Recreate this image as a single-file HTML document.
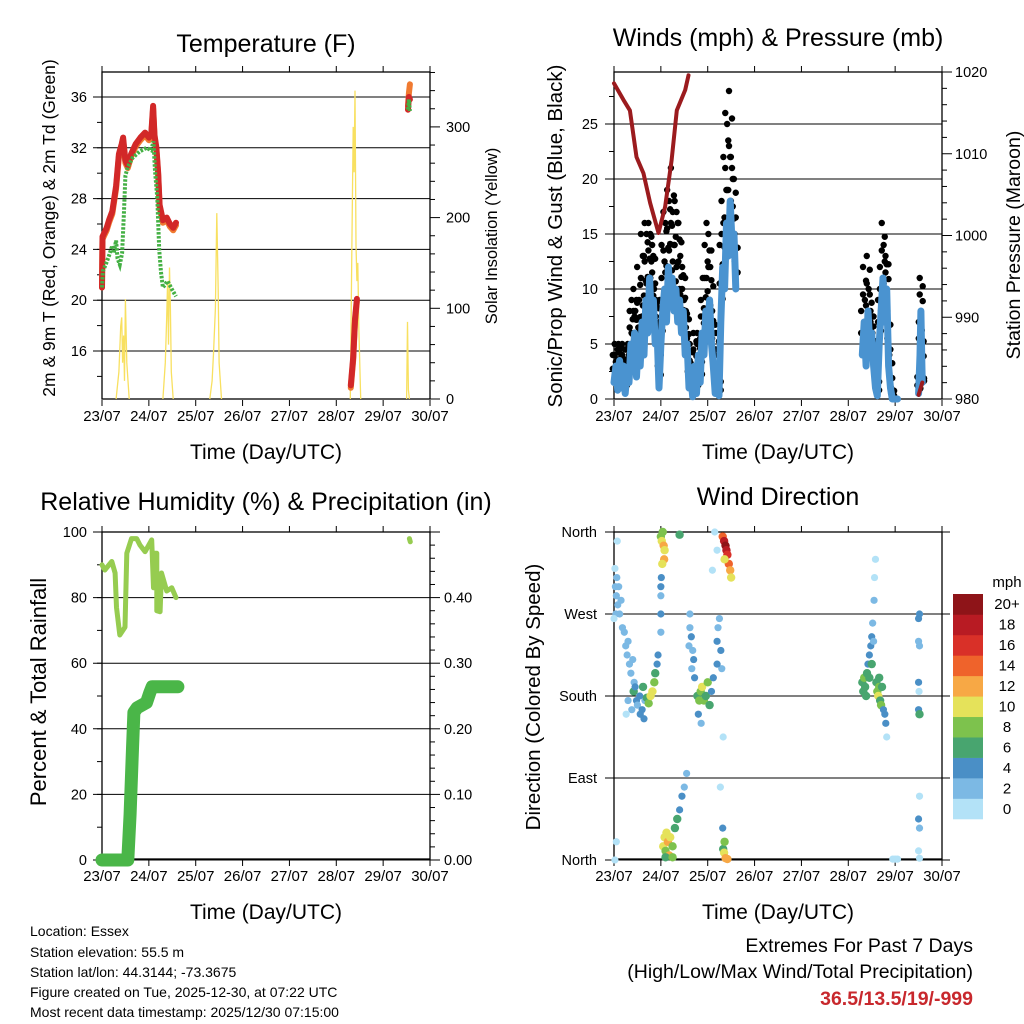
<!DOCTYPE html>
<html><head><meta charset="utf-8"><style>
html,body{margin:0;padding:0;background:#fff}
svg{display:block;font-family:"Liberation Sans",sans-serif}
</style></head><body>
<svg id="s" width="1024" height="1024" viewBox="0 0 1024 1024" xmlns="http://www.w3.org/2000/svg">
<g font-size="25" text-anchor="middle" fill="#000">
<text x="266" y="52">Temperature (F)</text>
<text x="778" y="46">Winds (mph) &amp; Pressure (mb)</text>
<text x="266" y="510">Relative Humidity (%) &amp; Precipitation (in)</text>
<text x="778" y="505">Wind Direction</text>
</g>
<g font-size="21" text-anchor="middle">
<text x="266" y="459">Time (Day/UTC)</text>
<text x="778" y="459">Time (Day/UTC)</text>
<text x="266" y="919">Time (Day/UTC)</text>
<text x="778" y="919">Time (Day/UTC)</text>
<text transform="translate(55,228) rotate(-90)" font-size="17.5">2m &amp; 9m T (Red, Orange) &amp; 2m Td (Green)</text>
<text transform="translate(497,236) rotate(-90)" font-size="16.5">Solar Insolation (Yellow)</text>
<text transform="translate(562,236) rotate(-90)" font-size="20.5">Sonic/Prop Wind &amp; Gust (Blue, Black)</text>
<text transform="translate(1020,245) rotate(-90)" font-size="19.5">Station Pressure (Maroon)</text>
<text transform="translate(46,692) rotate(-90)" font-size="22">Percent &amp; Total Rainfall</text>
<text transform="translate(540,697) rotate(-90)" font-size="20.5">Direction (Colored By Speed)</text>
</g>
<g font-size="14">
<text x="30" y="936">Location: Essex</text>
<text x="30" y="957">Station elevation: 55.5 m</text>
<text x="30" y="977">Station lat/lon: 44.3144; -73.3675</text>
<text x="30" y="997">Figure created on Tue, 2025-12-30, at 07:22 UTC</text>
<text x="30" y="1017">Most recent data timestamp: 2025/12/30 07:15:00</text>
</g>
<g font-size="19.5" text-anchor="end">
<text x="973" y="952">Extremes For Past 7 Days</text>
<text x="973" y="978">(High/Low/Max Wind/Total Precipitation)</text>
<text x="973" y="1005" font-weight="bold" fill="#c8282d">36.5/13.5/19/-999</text>
</g>
<g id="layer"></g>
</svg>
<script>
// ---- data ----
const dayLabels = ["23/07","24/07","25/07","26/07","27/07","28/07","29/07","30/07"];
const tempTicks = [16,20,24,28,32,36];
const solarTicks = [0,100,200,300];
const windTicks = [0,5,10,15,20,25];
const presTicks = [980,990,1000,1010,1020];
const rhTicks = [0,20,40,60,80,100];
const precipTicks = ["0.00","0.10","0.20","0.30","0.40"];
const dirLabels = ["North","East","South","West","North"];
const speedBins = ["0","2","4","6","8","10","12","14","16","18","20+"];
const binColors = ["#b3e2f7","#7cb9e4","#4a8fc6","#48a56f","#7dc24d","#e5e25a","#f7a845","#ef632b","#d93028","#b81b23","#8e1418"];

const tempT = [0,0.01,0.05,0.1,0.15,0.22,0.3,0.36,0.42,0.45,0.5,0.55,0.62,0.72,0.82,0.92,1.0,1.05,1.09,1.12,1.16,1.2,1.23,1.3,1.38,1.45,1.52,1.58,null,5.31,5.36,5.4,5.44,null,6.53,6.55,6.57];
const tempV = [21,25,25.3,25.7,26.3,27,29,31.5,32.3,32.8,31,30.6,31.5,32.3,32.8,33.2,32.8,33,35.3,33,32,30,27.5,26.3,26.5,26,25.7,26.1,null,13.3,15.5,18.5,20.1,null,35,36,35.8];
const tempOrangeV = [21,24.8,25.1,25.5,26.1,26.8,28.8,31.3,32.1,32.6,30.8,30.4,31.3,32.1,32.6,33,32.6,32.8,35.1,32.8,31.8,29.8,27.3,26.1,26.3,25.8,25.5,25.9,null,13.1,15.3,18.3,19.9,null,35.3,36.3,37];
const dewT = [0,0.02,0.08,0.15,0.22,0.25,0.3,0.33,0.38,0.43,0.47,0.5,0.55,0.65,0.8,0.95,1.05,1.1,1.13,1.18,1.22,1.26,1.3,1.4,1.5,1.58,null,6.53,6.55,6.57];
const dewV = [21,22.3,22.8,23.5,24.3,23.7,24.7,23.3,22.8,23.7,27,29.8,30.5,31.2,31.7,32,31.8,32.5,30.3,28,24,22.2,21,21.5,20.8,20.3,null,35,35.8,34.9];
const solarT = [0.3,0.36,0.4,0.42,0.44,0.46,0.48,0.5,0.53,0.58,null,1.3,1.35,1.38,1.4,1.42,1.44,1.46,1.48,1.52,null,2.3,2.35,2.38,2.42,2.45,2.48,2.5,2.55,null,5.3,5.33,5.36,5.38,5.4,5.42,5.44,5.46,5.48,5.52,null,6.5,6.52,6.54,6.56];
const solarV = [0,30,80,90,40,70,20,110,40,0,null,0,40,90,130,60,145,100,30,0,null,0,20,50,100,205,120,40,0,null,0,150,300,250,340,170,130,150,80,0,null,0,85,10,0];

const windT = [0,0.04,0.08,0.12,0.16,0.2,0.24,0.28,0.32,0.36,0.4,0.44,0.48,0.52,0.56,0.6,0.64,0.68,0.72,0.76,0.8,0.84,0.88,0.92,0.96,1.0,1.04,1.08,1.12,1.16,1.2,1.24,1.28,1.32,1.36,1.4,1.44,1.48,1.52,1.56,1.6,1.64,1.68,1.72,1.76,1.8,1.84,1.88,1.92,1.96,2.0,2.04,2.08,2.12,2.16,2.2,2.24,2.28,2.32,2.36,2.4,2.44,2.48,2.52,2.56,2.6,null,5.3,5.34,5.38,5.42,5.46,5.5,5.54,5.58,5.62,5.66,5.7,5.74,5.78,5.82,5.86,5.9,5.94,6.0,6.05,null,6.5,6.53,6.55,6.57,6.58];
const windS = [1.5,3,0.8,3.5,1,3,0.5,2.5,1.5,5,3,6,2,5.5,3,7,4,9,6,11,7,9,5,6,1,5,8,10,7,12,9,11,8,10,7,9,6,8,4,5,1,2,0.2,3,0.5,4,1.5,6,4,8,6,9,5,3,0.5,3,0.3,7,12,10,16,13,18,14,15,10,null,4,7,3,8,5,6,3,1,0.3,5,8,11,7,10,3,1,0,0,0,null,0.5,4,8,3,1.5];
const windG = [4,5,3,5,4.5,5,3,4.5,5,8,9,10,8,12,9,15,13,16,15,16,15,14,10,9,5,9,14,17,16,19,18,21,17,18,17,16,13,12,9,8,4,5,2,6,3,6,4,9,11,14,16,15,12,8,4,6,2,14,18,22,26,25,28,22,20,15,null,8,12,9,13,10,8,6,4,2,9,12,16,14,13,8,4,1,null,null,null,2,7,11,6,2];
const presT = [0,0.2,0.34,0.48,0.63,0.77,0.95,1.09,1.23,1.34,1.52,1.59,null,6.5,6.58];
const presV = [1018.6,1016.6,1015.3,1009.6,1007.6,1004,1000.3,1003.5,1009.2,1015.3,1017.8,1019.6,null,980.5,982];

const rhT = [0,0.06,0.21,0.28,0.31,0.38,0.49,0.53,0.63,0.74,0.81,0.92,1.06,1.1,1.13,1.17,1.17,1.24,1.27,1.38,1.49,1.58,null,6.56,6.58];
const rhV = [90,88.4,91,87.5,77,68.6,71,93.5,98,98,96,94,97.6,83,93.5,93.5,76,75.7,87.5,82,83,80,null,98,97];
const rainT = [0,0.55,0.6,0.65,0.68,0.75,0.95,1.02,1.07,1.62];
const rainV = [0,0,0.07,0.17,0.225,0.232,0.24,0.255,0.264,0.264];

const dirT = [0.02,0.03,0.05,0.06,0.08,0.1,0.12,0.04,0.15,0.0,0.07,0.18,
0.22,0.25,0.28,0.3,0.33,0.36,0.4,0.43,0.3,0.38,0.26,
0.42,0.45,0.48,0.5,0.55,0.6,0.62,0.66,0.7,0.74,0.78,0.82,0.86,0.88,0.92,0.94,0.56,0.64,
1.0,1.02,1.04,1.06,1.08,1.07,1.03,1.0,1.0,1.01,1.4,1.0,1.0,
1.05,1.08,1.1,1.12,1.15,1.18,1.2,1.25,1.3,1.35,1.4,1.45,1.5,1.55,1.1,1.25,
1.62,1.65,1.68,1.7,1.66,1.6,1.62,1.72,
1.78,1.82,1.85,1.88,1.92,1.96,2.0,2.04,1.8,1.86,2.08,2.12,
2.2,2.22,2.25,2.28,2.3,2.2,2.33,2.27,
2.32,2.35,2.38,2.4,2.42,2.45,2.48,2.5,2.36,2.15,2.2,2.1,
2.32,2.33,2.35,2.38,2.42,2.36,
5.3,5.32,5.34,5.36,5.38,5.4,5.42,5.45,5.48,5.5,5.52,5.55,5.56,5.58,5.54,5.5,5.45,
5.6,5.62,5.64,5.66,5.68,5.7,5.72,5.75,5.78,5.8,5.82,5.66,
6.5,6.52,6.5,6.52,6.5,6.5,6.52,6.51,6.52,6.5,6.52,6.5,6.52,
5.95,6.0,6.05,0.02,0.05];
const dirD = [320,300,290,310,280,300,270,270,285,265,350,255,
250,235,225,240,215,205,220,195,175,165,160,
185,190,175,170,180,165,190,175,178,172,180,185,195,205,215,225,160,155,
355,350,360,345,340,330,325,300,290,310,357,250,270,
15,25,10,30,20,5,25,15,35,45,55,70,80,95,3,3,
255,245,230,220,210,235,270,200,
180,175,185,190,175,180,195,170,160,150,185,200,
240,255,265,230,210,215,135,80,
355,350,345,340,335,325,318,310,330,360,340,318,
35,12,8,2,1,20,
195,185,200,190,180,205,215,225,235,245,260,285,310,330,240,215,200,
195,185,180,190,175,170,190,165,160,150,135,200,
265,270,240,235,195,165,160,185,70,45,35,10,2,
1,1,1,0,20];
const dirS = [1,2,2,2,3,2,3,2,2,1,1,2,
2,2,2,3,2,3,3,2,3,3,1,
6,5,4,3,5,4,7,3,6,9,10,11,8,7,5,4,4,4,
8,10,9,12,10,12,10,4,3,4,6,3,4,
10,10,9,11,12,12,11,8,7,6,5,4,3,2,6,8,
3,4,3,4,2,2,2,4,
6,8,9,10,8,7,8,6,4,3,5,4,
4,3,3,4,3,4,1,1,
14,18,20,18,16,14,12,11,10,1,1,1,
4,6,10,12,12,8,
6,7,8,7,6,6,4,4,4,4,3,2,1,1,3,6,7,
6,8,10,9,7,8,6,5,4,4,1,7,
4,4,2,2,4,4,7,1,1,4,2,1,1,
0,0,0,1,1];

// ---- drawing ----
const NS="http://www.w3.org/2000/svg";
const layer=document.getElementById('layer');
function mk(tag,attrs,parent){const e=document.createElementNS(NS,tag);for(const k in attrs)e.setAttribute(k,attrs[k]);(parent||layer).appendChild(e);return e;}
function xScale(x0){return d=>x0+d*328/7;}
function pathFrom(ts,vs,xf,yf){let d="",pen=false;for(let i=0;i<ts.length;i++){if(ts[i]===null||vs[i]===null){pen=false;continue;}d+=(pen?"L":"M")+xf(ts[i]).toFixed(1)+","+yf(vs[i]).toFixed(1);pen=true;}return d;}

function frame(x0,y0,name){
  const g=mk('g',{});
  
  
  const xf=xScale(x0);
  for(let i=0;i<8;i++){
    const x=xf(i);
    mk('line',{x1:x,y1:y0-6,x2:x,y2:y0,stroke:'#000','stroke-width':1},g);
    mk('line',{x1:x,y1:y0+328,x2:x,y2:y0+334,stroke:'#000','stroke-width':1},g);
    const t=mk('text',{x:x,y:y0+349,'font-size':15,'text-anchor':'middle'},g);
    t.textContent=dayLabels[i];
    
    
  }
  return g;
}
function box(x0,y0,g){mk('rect',{x:x0,y:y0,width:328,height:327,fill:'none',stroke:'#000','stroke-width':1.3},g);}
function hgrid(g,y,x1,x2){mk('line',{x1:x1,y1:y,x2:x2,y2:y,stroke:'#000','stroke-width':1},g);}
function ltick(g,x,y,len){mk('line',{x1:x-len,y1:y,x2:x,y2:y,stroke:'#000','stroke-width':1},g);}
function rtick(g,x,y,len){mk('line',{x1:x,y1:y,x2:x+len,y2:y,stroke:'#000','stroke-width':1},g);}
function label(g,x,y,txt,anchor,name){const t=mk('text',{x:x,y:y+5,'font-size':14.5,'text-anchor':anchor},g);t.textContent=txt;}

// Panel 1: temperature
(function(){
  const x0=102,y0=72,xf=xScale(x0);
  const yT=v=>399-(v-12.22)*12.7, yS=v=>399-v*0.907;
  const g=frame(x0,y0,'temperature');
  for(let v=14;v<=38;v+=2){ if(yT(v)<72||yT(v)>399)continue; ltick(g,x0,yT(v),5); }
  tempTicks.forEach(v=>{hgrid(g,yT(v),93,430);label(g,87,yT(v),String(v),'end','temp-y-tick');});
  for(let v=0;v<=360;v+=20){ if(yS(v)<72)continue; rtick(g,430,yS(v),v%100===0?10:5); }
  solarTicks.forEach(v=>label(g,446,yS(v),String(v),'start','solar-y-tick'));
  const sp=mk('path',{d:pathFrom(solarT,solarV,xf,yS),fill:'none',stroke:'#f8e060','stroke-width':1.3});
  
  const op=mk('path',{d:pathFrom(tempT,tempOrangeV,xf,yT),fill:'none',stroke:'#f07a30','stroke-width':6,'stroke-linejoin':'round','stroke-linecap':'round'});
  
  const rp=mk('path',{d:pathFrom(tempT,tempV,xf,yT),fill:'none',stroke:'#d22828','stroke-width':6,'stroke-linejoin':'round','stroke-linecap':'round'});
  
  const gp=mk('path',{d:pathFrom(dewT,dewV,xf,yT),fill:'none',stroke:'#44b044','stroke-width':4,'stroke-dasharray':'2.5 1.5'});
  
  box(x0,y0,g);
})();

// Panel 2: winds
(function(){
  const x0=614,y0=72,xf=xScale(x0);
  const yW=v=>399-v*11, yP=p=>399-(p-980)*8.175;
  const g=frame(x0,y0,'winds');
  for(let v=0;v<=29;v+=2.5) ltick(g,x0,yW(v),5);
  windTicks.forEach(v=>{hgrid(g,yW(v),605,942);label(g,598,yW(v),String(v),'end','wind-y-tick');});
  for(let p=980;p<=1020;p+=2) rtick(g,942,yP(p),p%10===0?10:5);
  presTicks.forEach(p=>label(g,955,yP(p),String(p),'start','pressure-y-tick'));
  const gg=mk('g',{fill:'#000'});
  
  const fr=[1,0.75,0.5,0.3];
  for(let i=0;i<windT.length;i++){ if(windT[i]===null||windG[i]===null)continue;
    fr.forEach((f,k)=>{
      const c=mk('circle',{cx:xf(windT[i])+(k%2?1.8:-1.2),cy:yW(windS[i]+(windG[i]-windS[i])*f),r:3.2},gg);
      
    });
  }
  const wp=mk('path',{d:pathFrom(windT,windS,xf,yW),fill:'none',stroke:'#4a93d0','stroke-width':7,'stroke-linejoin':'round','stroke-linecap':'round'});
  
  const pp=mk('path',{d:pathFrom(presT,presV,xf,yP),fill:'none',stroke:'#9b1b1e','stroke-width':4,'stroke-linejoin':'round','stroke-linecap':'round'});
  
  box(x0,y0,g);
})();

// Panel 3: RH & precip
(function(){
  const x0=102,y0=532,xf=xScale(x0);
  const yR=v=>860-v*3.28, yP=v=>860-v*656;
  const g=frame(x0,y0,'humidity');
  for(let v=0;v<=100;v+=10) ltick(g,x0,yR(v),5);
  rhTicks.forEach(v=>{hgrid(g,yR(v),93,430);label(g,87,yR(v),String(v),'end','rh-y-tick');});
  for(let v=0;v<=0.5001;v+=0.02) rtick(g,430,yP(v),Math.round(v*100)%10===0?10:5);
  precipTicks.forEach(v=>label(g,444,yP(parseFloat(v)),v,'start','precip-y-tick'));
  const rp=mk('path',{d:pathFrom(rainT,rainV,xf,yP),fill:'none',stroke:'#4ab648','stroke-width':13,'stroke-linejoin':'round','stroke-linecap':'round'});
  
  const hp=mk('path',{d:pathFrom(rhT,rhV,xf,yR),fill:'none',stroke:'#96cc50','stroke-width':5,'stroke-linejoin':'round','stroke-linecap':'round'});
  
  box(x0,y0,g);
})();

// Panel 4: wind direction
(function(){
  const x0=614,y0=532,xf=xScale(x0);
  const yD=d=>860-d*328/360;
  const g=frame(x0,y0,'wind-direction');
  dirLabels.forEach((s,i)=>{const y=yD(i*90);hgrid(g,y,605,950);label(g,597,y,s,'end','direction-tick');});
  const pg=mk('g',{});
  
  for(let i=0;i<dirT.length;i++){
    const b=Math.min(10,Math.floor(dirS[i]/2));
    const c=mk('circle',{cx:xf(dirT[i]),cy:yD(dirD[i]),r:b>=3?4.2:3.6,fill:binColors[b]},pg);
    
  }
  box(x0,y0,g);
  const cb=mk('g',{});
  
  const h=225/11;
  speedBins.forEach((s,i)=>{
    const y=819-(i+1)*h;
    const r=mk('rect',{x:953,y:y,width:30,height:h+0.3,fill:binColors[i]},cb);
    
    const t=mk('text',{x:1007,y:y+h/2+5,'font-size':15,'text-anchor':'middle'},cb);
    t.textContent=s;
    
  });
  const m=mk('text',{x:1007,y:587,'font-size':15,'text-anchor':'middle'},cb);
  m.textContent='mph';
  
})();
</script>
</body></html>
